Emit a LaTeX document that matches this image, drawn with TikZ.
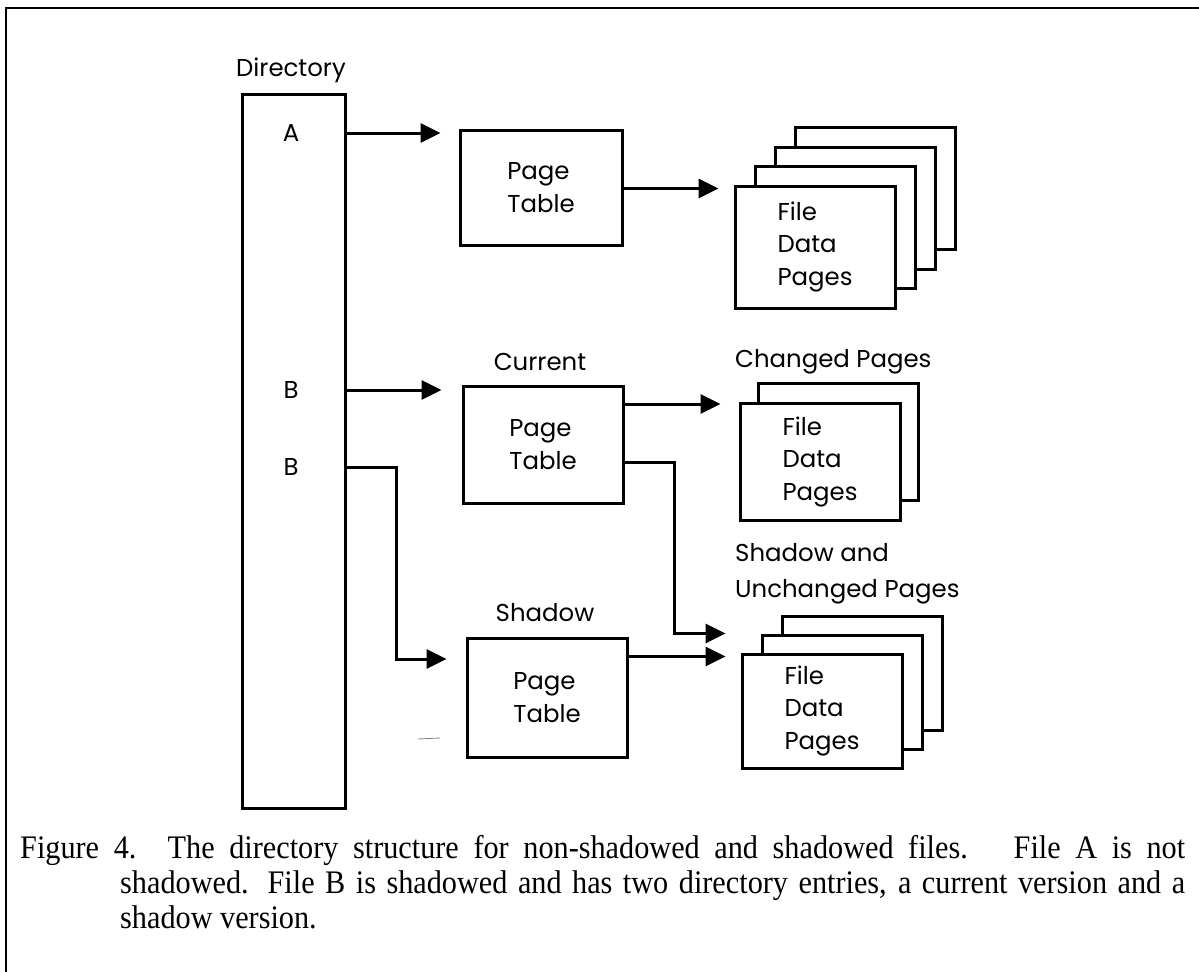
\documentclass[tikz,border=0pt]{standalone}
\usepackage{fontspec}
\setmainfont{Liberation Serif}
\newfontfamily\labfont{Poppins}
\newfontfamily\capfont[FakeStretch=0.92]{Liberation Serif}
\usetikzlibrary{arrows.meta,calc}
\begin{document}
\begin{tikzpicture}[x=1bp,y=-1bp,
  pg/.style={draw, line width=3bp, fill=white, inner sep=0pt, font=\labfont\fontsize{24.5}{33}\selectfont, align=left},
  lbl/.style={font=\labfont\fontsize{24.5}{36}\selectfont, inner sep=0pt},
  conn/.style={line width=3bp, -{Triangle[length=20bp,width=19bp]}},
  frameline/.style={line width=2bp},
  captxt/.style={font=\capfont\fontsize{33}{35}\selectfont, inner sep=0pt, anchor=base west}]
\useasboundingbox (0,0) rectangle (1199,972);
\draw[frameline] (1199,8) -- (6,8) -- (6,972);

% directory
\node[lbl] (dirlbl) at (291,70) {Directory};
\node[pg, minimum width=103bp, minimum height=713bp] (dir) at (293.5,451.5) {};
\node[lbl] (a) at (291,133) {A};
\node[lbl] (b1) at (291,390) {B};
\node[lbl] (b2) at (291,467) {B};

% page tables
\node[pg, minimum width=162bp, minimum height=115bp] (pt1) at (541,187.5) {Page\\Table};
\node[pg, minimum width=160bp, minimum height=117bp] (pt2) at (543,444.5) {Page\\Table};
\node[pg, minimum width=160bp, minimum height=119bp] (pt3) at (547,697.5) {Page\\Table};
\node[lbl] (curlbl) at (540,362) {Current};
\node[lbl] (shlbl) at (545,613) {Shadow};

% stack 1
\node[pg, minimum width=160bp, minimum height=122bp] (s1d) at (875,188.5) {};
\node[pg, minimum width=160bp, minimum height=122bp] (s1c) at (855,208) {};
\node[pg, minimum width=160bp, minimum height=122bp] (s1b) at (835,227.5) {};
\node[pg, minimum width=160bp, minimum height=122bp] (s1a) at (815,247) {File\\Data\\Pages};

% stack 2
\node[lbl, anchor=west] (chlbl) at (735,362) {Changed Pages};
\node[pg, minimum width=160bp, minimum height=117bp] (s2b) at (838,442) {};
\node[pg, minimum width=160bp, minimum height=117bp] (s2a) at (820,462) {File\\Data\\Pages};

% stack 3
\node[lbl, align=left, anchor=north west] (unlbl) at (735,543) {Shadow and\\Unchanged Pages};
\node[pg, minimum width=160bp, minimum height=114bp] (s3c) at (862,673) {};
\node[pg, minimum width=160bp, minimum height=114bp] (s3b) at (842,692) {};
\node[pg, minimum width=160bp, minimum height=114bp] (s3a) at (822,711) {File\\Data\\Pages};

% connectors
\draw[conn, shorten >=18bp] (dir.east |- a.center) -- (pt1.west |- a.center);
\coordinate (t1) at ([yshift=-4bp]s1a.north west);
\draw[conn, shorten >=15bp] (pt1.east |- t1) -- (t1);

\draw[conn, shorten >=20bp] (dir.east |- b1.center) -- (pt2.west |- b1.center);
\coordinate (t2) at ([yshift=-2bp]s2a.north west);
\draw[conn, shorten >=18bp] (pt2.east |- t2) -- (t2);
\draw[conn, shorten >=15bp] ([yshift=-17.5bp]pt2.east) -| ([xshift=50bp]pt2.east |- s3b.north) -- (s3a.west |- s3b.north);

\coordinate (a3) at ([yshift=38.5bp]pt3.west);
\draw[conn, shorten >=19bp] (dir.east |- b2.center) -| ([xshift=50bp]dir.east |- a3) -- (pt3.west |- a3);
\coordinate (t3) at ([yshift=-4bp]s3a.north west);
\draw[conn, shorten >=15bp] (pt3.east |- t3) -- (t3);

\draw[line width=0.8bp, gray] (418,739) -- (440,738);

% caption
\node[captxt] (cap1) at (20,858) {\makebox[1165bp][s]{Figure 4. The directory structure for non-shadowed and shadowed files. \ File A is not}};
\node[captxt] (cap2) at (120,893) {\makebox[1065bp][s]{shadowed. File B is shadowed and has two directory entries, a current version and a}};
\node[captxt] (cap3) at (120,928) {shadow version.};
\end{tikzpicture}
\end{document}
